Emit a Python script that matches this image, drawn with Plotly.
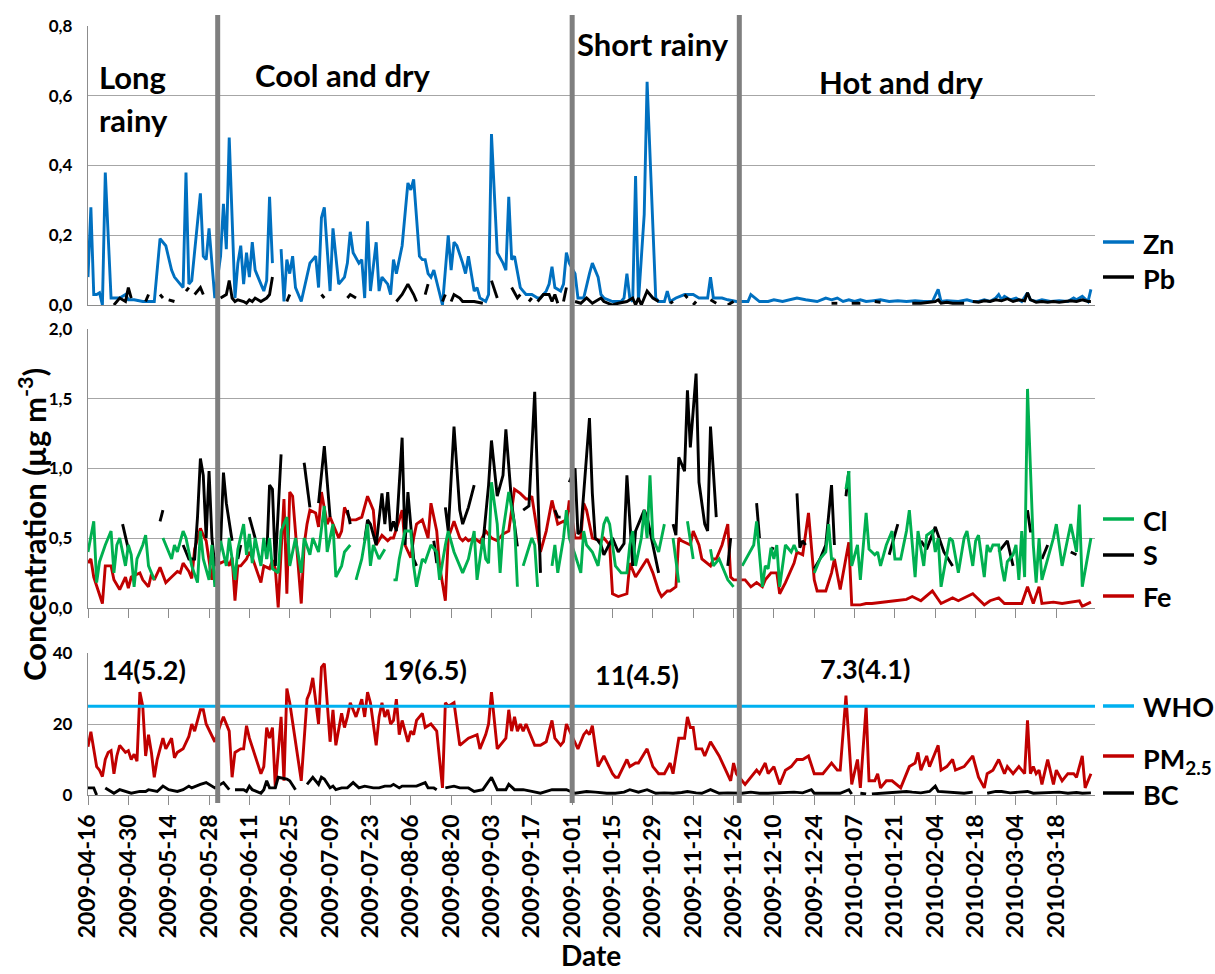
import pandas as pd
import plotly.graph_objects as go

# ---------------- data ----------------
START = "2009-04-16"
X_END = "2010-03-31 10:00"

# (day offset from START, value); None marks a gap
ZN = [(0,.08),(1,.28),(2,.03),(3,.03),(4,.035),(5,0),(6,.38),(8,.02),(9,.02),(11,.02),(13,.03),(14,.015),(16,.015),(19,.01),(21,.01),(23,.01),(25,.19),(27,.17),(29,.10),(30,.08),(31,.07),(33,.05),(34,.38),(35,.06),(36,.07),(39,.32),(40,.14),(41,.13),(42,.22),(44,.02),(46,.14),(47,.29),(48,.16),(49,.48),(51,.02),(52,.12),(53,.17),(54,.06),(55,.15),(56,.08),(57,.18),(58,.10),(60,.06),(61,.04),(62,.07),(63,.31),(64,.12),(65,None),(67,.16),(68,.01),(69,.13),(70,.09),(71,.14),(72,.05),(74,.01),(76,.08),(77,.12),(79,.14),(80,.05),(81,.25),(82,.28),(84,.04),(85,.22),(87,.06),(89,.08),(90,.12),(91,.21),(92,.15),(94,.12),(95,.13),(96,.02),(97,.24),(98,.04),(100,.18),(101,.04),(102,.08),(104,.06),(105,.03),(106,.13),(107,.09),(109,.17),(111,.35),(112,.33),(113,.36),(115,.14),(116,.13),(117,.13),(118,.09),(119,.08),(120,.10),(123,0),(125,.20),(126,.10),(127,.18),(128,.17),(130,.12),(131,.09),(132,.14),(134,.04),(135,.05),(136,.02),(138,.01),(139,.03),(140,.49),(142,.15),(144,.12),(145,.10),(146,.31),(147,.13),(148,.14),(150,.05),(151,.04),(152,.03),(154,.03),(156,.02),(157,.02),(159,.04),(160,.06),(161,.11),(162,.05),(164,.04),(165,.06),(166,.15),(167,.12),(169,.09),(170,.02),(172,.02),(174,.09),(175,.12),(177,.08),(178,.03),(179,.02),(182,.01),(185,.01),(186,.02),(187,.09),(188,.02),(189,.01),(190,.37),(191,.01),(193,.26),(194,.64),(197,.02),(198,.01),(200,.01),(201,.04),(202,.01),(204,.02),(207,.03),(210,.03),(212,.02),(215,.02),(216,.08),(217,.02),(220,.02),(222,.015),(225,.01),(227,.01),(229,.01),(230,.03),(233,.01),(236,.01),(238,.015),(241,.01),(244,.015),(246,.02),(249,.015),(253,.01),(256,.02),(258,.015),(260,.02),(262,.01),(264,.015),(266,.01),(268,.015),(270,.01),(272,.012),(275,.015),(278,.01),(281,.012),(284,.01),(287,.012),(290,.01),(293,.01),(295,.045),(296,.01),(298,.012),(300,.01),(302,.01),(305,.015),(307,.01),(309,.01),(311,.015),(313,.01),(315,.02),(316,.03),(317,.015),(318,.025),(320,.015),(322,.02),(324,.01),(326,.035),(327,.015),(329,.01),(331,.015),(334,.01),(337,.012),(340,.01),(342,.02),(343,.015),(345,.025),(347,.01),(348,.045)]

PB = [(9,0),(10,.01),(11,.02),(13,.01),(14,.05),(15,.02),(16,None),(20,.01),(21,.03),(22,None),(25,.03),(26,.02),(27,None),(28,.015),(30,.01),(31,None),(34,.04),(35,.05),(36,None),(37,.03),(39,.05),(40,.03),(41,None),(46,.02),(48,.03),(49,.07),(50,.02),(51,.01),(52,.015),(54,.01),(55,.005),(56,.015),(57,.01),(58,.02),(59,.015),(60,.01),(62,.02),(63,.03),(64,.08),(65,None),(69,.01),(70,.03),(71,None),(81,.03),(82,.02),(83,None),(90,.02),(91,.03),(93,.02),(94,None),(107,.01),(109,.03),(111,.06),(113,.03),(114,.01),(115,None),(117,.03),(118,.06),(119,None),(123,.01),(124,.03),(125,None),(126,.01),(127,.03),(129,.02),(130,.01),(132,.01),(134,.01),(137,.005),(138,None),(140,.07),(142,.02),(143,None),(147,.05),(149,.02),(150,.03),(151,None),(153,.01),(154,.02),(155,None),(156,.01),(158,.03),(160,.03),(161,.01),(162,.03),(163,.005),(164,None),(165,.01),(166,.05),(167,None),(169,.01),(171,.005),(173,.02),(175,.005),(178,.02),(179,.01),(182,0),(184,.005),(187,.01),(189,.02),(190,0),(191,.02),(192,0),(194,.04),(196,.02),(198,.01),(199,None),(202,.005),(203,.01),(204,None),(207,.03),(208,.02),(209,None),(210,0),(211,.01),(212,None),(216,.015),(218,.005),(219,None),(222,0),(224,.01),(225,None),(258,.005),(260,.005),(261,None),(265,.005),(268,.005),(269,None),(273,.01),(275,.008),(276,None),(286,.005),(289,.005),(292,.008),(294,.01),(295,.015),(296,.005),(298,.008),(300,.005),(302,.005),(304,.005),(305,None),(307,.01),(309,.008),(311,.012),(313,.01),(315,.015),(317,.012),(319,.018),(321,.01),(323,.015),(325,.012),(326,.035),(327,.015),(329,.008),(331,.01),(333,.008),(335,.01),(337,.008),(339,.01),(341,.012),(343,.01),(345,.015),(347,.01),(348,.01)]

FE = [(0,.32),(1,.35),(2,.22),(4,.10),(5,.03),(6,.30),(8,.30),(9,.20),(10,.16),(11,.13),(13,.22),(14,.14),(15,.22),(18,.25),(19,.20),(21,.15),(22,.24),(23,.20),(25,.29),(27,.18),(29,.22),(31,.26),(32,.25),(33,.32),(35,.26),(36,.21),(37,.42),(39,.57),(40,.52),(41,.48),(43,.20),(44,.35),(46,.32),(48,.34),(49,.30),(50,.36),(51,.05),(52,.30),(53,.30),(55,.35),(56,.40),(57,.36),(60,.18),(61,.30),(63,.28),(64,.34),(65,.28),(66,0),(67,.40),(68,.78),(69,.10),(70,.83),(71,.80),(73,.30),(74,.03),(75,.45),(76,.60),(77,.70),(79,.68),(80,.58),(81,.83),(83,.60),(84,.65),(86,.55),(87,.50),(88,.55),(89,.72),(91,.63),(93,.63),(95,.65),(97,.80),(99,.70),(100,.45),(102,.52),(104,.48),(105,.50),(106,.50),(108,.63),(109,.70),(110,.45),(111,.40),(112,.36),(113,.50),(114,.60),(116,.63),(118,.50),(119,.75),(121,.55),(122,.30),(124,.05),(125,.50),(127,.62),(129,.50),(130,.48),(131,.50),(132,.48),(134,.50),(136,.47),(138,.55),(140,.50),(142,.48),(144,.53),(146,.55),(148,.85),(150,.82),(152,.78),(153,.78),(154,.80),(157,.40),(159,.55),(161,.77),(163,.60),(165,.62),(166,.60),(167,.77),(169,.50),(171,.50),(172,.75),(173,.70),(175,.50),(178,.48),(179,.50),(181,.45),(182,.10),(184,.08),(187,.10),(188,.32),(190,.22),(194,.35),(196,.25),(198,.12),(199,.08),(201,.12),(202,.12),(204,.15),(205,.50),(206,.48),(209,.45),(210,.55),(212,.45),(213,.35),(216,.30),(217,.35),(218,.35),(220,.45),(222,.60),(223,.22),(224,.20),(225,.20),(228,.20),(230,.15),(232,.18),(234,.15),(235,.20),(237,.25),(238,.25),(239,.25),(240,.10),(242,.18),(245,.32),(246,.40),(248,.38),(250,.68),(252,.20),(253,.12),(256,.12),(258,.25),(259,.35),(261,.13),(264,.47),(265,.02),(268,.02),(270,.03),(272,.03),(277,.04),(280,.05),(284,.06),(286,.08),(289,.05),(293,.12),(296,.03),(300,.07),(302,.05),(307,.10),(311,.02),(313,.05),(316,.07),(318,.03),(324,.03),(326,.15),(328,.03),(330,.15),(331,.03),(335,.04),(338,.03),(342,.04),(344,.05),(345,.01),(348,.04)]

S = [(12,.60),(14,.42),(15,None),(25,.62),(26,.70),(27,None),(33,.45),(35,.35),(37,.35),(38,.65),(39,1.07),(40,.95),(41,.50),(42,.98),(43,.50),(44,.30),(46,.45),(47,.97),(48,.75),(50,.48),(51,None),(52,.35),(53,.45),(54,None),(56,.65),(58,.50),(59,None),(62,.35),(63,.88),(64,.85),(65,.30),(67,1.10),(68,None),(75,1.04),(77,.72),(78,None),(80,.75),(82,1.16),(84,.65),(85,None),(90,.70),(91,.60),(92,None),(96,.48),(97,.63),(98,.60),(100,.45),(102,.82),(103,.60),(104,.83),(105,.55),(106,.62),(107,.55),(109,1.22),(110,.45),(111,.83),(113,.35),(114,.30),(115,None),(120,.48),(121,.32),(122,None),(124,.72),(125,.55),(127,1.30),(129,.70),(130,.60),(132,.72),(134,.88),(135,None),(137,.45),(139,.88),(140,1.20),(142,.80),(144,.95),(145,1.28),(147,.75),(149,.44),(150,None),(151,.70),(153,.73),(155,1.55),(157,.25),(158,None),(162,.70),(163,.65),(164,.65),(165,None),(167,.90),(169,1.00),(170,.53),(171,.55),(174,1.36),(175,.82),(176,.50),(177,.48),(178,.45),(179,.38),(180,.42),(182,.50),(184,.40),(186,.46),(187,.95),(189,.30),(190,.55),(191,.60),(193,.70),(194,.65),(198,.25),(199,None),(203,.60),(204,.52),(205,1.08),(207,.98),(208,1.56),(209,1.15),(211,1.68),(212,.90),(214,.60),(215,.55),(216,1.30),(218,.65),(219,None),(222,.30),(223,.50),(224,None),(232,.75),(233,.50),(234,None),(237,.43),(238,.42),(239,None),(246,.82),(247,.43),(248,.48),(249,.45),(250,None),(252,.28),(254,.35),(256,.45),(258,.88),(259,.45),(260,None),(263,.80),(264,.98),(265,None),(278,.38),(281,.60),(282,None),(289,.48),(291,.42),(294,.58),(297,.40),(300,.30),(301,None),(316,.40),(319,.48),(321,.30),(322,None),(326,.70),(327,.55),(328,.55),(329,None),(331,.35),(333,.45),(334,None),(341,.40),(343,.38)]

CL = [(0,.40),(2,.62),(3,.18),(4,.33),(6,.45),(7,.50),(8,.55),(9,.25),(10,.45),(11,.50),(13,.30),(14,.45),(15,.38),(16,.15),(17,.35),(19,.45),(20,.52),(21,.30),(23,.20),(24,None),(26,.50),(27,.45),(29,.35),(30,.45),(31,.40),(33,.55),(34,.50),(36,.30),(38,.18),(39,.55),(40,.35),(42,.20),(43,.45),(44,.15),(46,.48),(48,.30),(49,.50),(51,.20),(52,.42),(54,.60),(55,.38),(56,.53),(57,.32),(58,.50),(60,.30),(61,.50),(62,.35),(63,.50),(64,.28),(66,.25),(67,.55),(69,.65),(70,.30),(72,.50),(74,.25),(75,.50),(77,.38),(78,.50),(80,.40),(82,.73),(83,.40),(85,.60),(86,.22),(88,.30),(89,.40),(91,.45),(92,None),(93,.20),(95,.35),(97,.60),(98,.30),(99,.45),(101,.35),(103,.42),(104,None),(106,.20),(107,.20),(108,.35),(110,.55),(112,.55),(113,.30),(114,.15),(116,.35),(117,.33),(119,.45),(121,.40),(122,.20),(124,.45),(125,.55),(127,.40),(128,.35),(130,.25),(132,.35),(134,.55),(135,.20),(137,.50),(138,.35),(139,.32),(140,.90),(142,.60),(143,.25),(144,.55),(146,.83),(148,.60),(149,.15),(150,None),(151,.30),(154,.50),(155,.45),(156,.15),(157,None),(161,.30),(162,.45),(163,.25),(165,.50),(166,.70),(167,.50),(169,.38),(171,.25),(172,.55),(173,.45),(175,.40),(177,.30),(179,.60),(180,.65),(181,.60),(183,.30),(185,.25),(187,.25),(188,.45),(189,.55),(190,.30),(192,.50),(193,.70),(194,.50),(195,.95),(196,.50),(198,.40),(200,.60),(201,None),(203,.50),(205,.18),(206,None),(208,.62),(210,.35),(211,None),(216,.42),(217,.30),(219,.35),(222,.20),(224,.15),(225,None),(227,.30),(231,.45),(232,.62),(234,.15),(235,.30),(236,.28),(237,.43),(238,.35),(239,.45),(240,.15),(242,.45),(244,.40),(245,.45),(246,.40),(247,None),(252,.25),(254,.35),(256,.40),(257,.60),(258,.35),(259,.35),(260,None),(263,.85),(264,.98),(265,.30),(267,.45),(268,.20),(270,.68),(271,.42),(273,.38),(274,.40),(275,.30),(277,.45),(278,.50),(279,.55),(280,.35),(282,.35),(284,.55),(285,.70),(287,.22),(288,.55),(290,.30),(291,.52),(293,.55),(294,.40),(295,.50),(296,.15),(299,.50),(300,.48),(302,.25),(304,.50),(305,.55),(307,.30),(308,.48),(309,.52),(311,.22),(312,.45),(313,.40),(314,.45),(316,.45),(317,.30),(318,.19),(319,.33),(321,.38),(322,.45),(323,.20),(324,.55),(325,.22),(326,1.57),(328,.45),(329,.18),(330,.50),(331,.20),(333,.35),(334,.42),(335,.50),(336,.60),(338,.30),(340,.50),(341,.60),(343,.40),(344,.74),(345,.15),(348,.50)]

PM25 = [(0,13.6),(1,17.8),(3,8),(4,7),(5,5.2),(6,10),(7,12),(8,12.5),(9,6),(10,11),(11,14),(13,12),(14,12.5),(15,10),(16,11.5),(17,9.5),(18,29),(19,25),(20,11),(21,17),(22,12),(23,5),(24,10),(26,16),(27,13),(29,16),(30,10.5),(31,12),(33,13),(34,15),(35,16.5),(36,20),(37,18),(39,24),(40,24),(41,20),(44,15),(46,20),(47,22),(49,18),(50,5),(51,12),(53,13),(54,13),(55,19.5),(56,16),(58,11),(60,6),(61,8),(62,19),(63,16),(64,19),(65,2),(67,22),(68,4),(69,30),(70,26),(72,15),(74,4),(76,27),(77,29),(78,33),(79,26),(80,20),(81,36),(82,37),(84,15),(85,24),(86,14),(87,19),(88,23),(89,19),(90,22),(91,26),(93,22),(95,27),(96,22),(97,29),(98,26),(100,14),(101,22),(102,26),(103,22),(104,24),(105,20),(106,21),(107,27),(108,17),(109,21),(110,18),(111,15),(112,18),(113,17),(114,21),(116,23),(117,19),(119,20),(121,18),(123,2),(124,26),(125,25),(127,26),(129,14),(132,16),(135,17),(136,13),(138,17),(139,20),(140,29),(142,13),(145,16),(146,24),(147,18),(148,22),(149,18),(150,20),(151,18),(152,20),(155,14),(157,14),(159,15),(161,21),(162,16),(164,14),(165,15),(166,20),(169,15),(170,13),(172,17),(173,18),(174,17),(175,19.5),(177,8),(179,11),(182,6),(183,5),(184,5),(187,10),(188,8),(190,9),(191,9),(194,13),(196,8),(198,6),(200,6),(202,9),(203,6),(205,16),(207,16),(208,22),(209,19),(210,19),(211,13),(213,13),(214,11),(216,15),(219,11),(223,4),(224,9),(225,6),(228,3),(231,6),(232,7),(233,6),(235,9),(236,6),(238,8),(240,3),(242,7),(244,8),(246,10),(248,10),(250,11),(252,6),(255,6),(257,8),(258,9),(260,7),(261,7),(263,28),(265,3),(267,10),(268,2),(270,25),(271,4),(273,4),(274,6),(275,2),(277,4),(279,4),(282,2),(285,8),(287,9),(288,12),(289,7),(291,11),(292,8),(295,14),(296,7),(298,8),(300,10),(301,7),(304,8),(307,11),(309,5),(311,2),(312,6),(314,7),(316,10),(318,6),(319,8),(321,6),(323,8),(325,6),(326,21),(327,6),(328,8),(329,6),(330,7),(331,3),(333,10),(335,3),(336,7),(338,4),(340,6),(342,6),(343,5),(345,11),(346,2),(348,6)]

BC = [(0,2),(2,2),(3,0),(4,None),(6,2),(8,1),(9,.5),(11,1.5),(13,1),(15,.5),(18,1),(20,1),(21,1.5),(24,1),(26,2.5),(28,1.5),(31,1),(33,1.5),(35,2.5),(36,2),(39,3),(41,3.5),(44,2),(46,3),(47,3.5),(49,1.5),(50,None),(51,1.5),(54,1.5),(55,1),(56,2.5),(57,1.5),(60,.5),(61,1.5),(62,4),(63,2),(65,2),(66,5),(69,4.5),(70,4),(72,1.5),(73,None),(76,3),(78,5),(80,3),(81,5),(82,4.5),(84,2),(85,2.5),(86,1.5),(88,2),(90,2),(92,3.5),(94,2),(96,2.5),(99,2),(101,2),(103,2.5),(105,2.5),(106,3),(108,2),(109,2.5),(112,2.5),(114,2.5),(117,3.5),(118,2),(120,2),(121,1.5),(122,None),(124,2),(127,2.5),(129,2),(132,2),(134,1),(137,1.5),(140,5),(142,1.5),(145,1.5),(146,3),(148,1.5),(151,1.5),(154,1),(157,.5),(161,1.5),(166,1.5),(169,.5),(173,1),(176,.8),(180,.5),(183,.5),(186,.8),(188,1.5),(191,.8),(194,1.5),(197,.5),(200,.6),(203,.5),(206,.7),(208,1),(211,.6),(213,.5),(216,1.5),(219,.5),(222,.6),(224,.5),(227,.5),(230,.8),(233,.5),(236,.5),(239,.6),(242,.5),(245,.8),(248,.6),(251,1.5),(252,.5),(255,.5),(258,.6),(261,.5),(264,1.5),(265,.3),(266,None),(268,.5),(270,.3),(271,None),(272,.3),(275,.5),(278,.6),(281,.8),(284,1),(286,.8),(289,.6),(292,1),(294,2.5),(295,1),(298,.8),(301,.6),(304,.5),(307,.8),(308,None),(312,.5),(315,1),(317,1),(320,.6),(323,.8),(326,1),(328,.5),(331,.6),(334,.5),(337,.8),(340,.5),(343,.7),(345,.5),(348,.6)]

WHO_LIMIT = 25
SEASON_BREAKS = ["2009-05-31", "2009-10-01", "2009-11-28"]
SEASON_TEXT = ["Long", "rainy", "Cool and dry", "Short rainy", "Hot and dry"]
PM_MEANS = ["14(5.2)", "19(6.5)", "11(4.5)", "7.3(4.1)"]
Y1_TICKS = [0, 0.2, 0.4, 0.6, 0.8]
Y1_TEXT = ["0,0", "0,2", "0,4", "0,6", "0,8"]
Y2_TICKS = [0, 0.5, 1.0, 1.5, 2.0]
Y2_TEXT = ["0,0", "0,5", "1,0", "1,5", "2,0"]
Y3_TICKS = [0, 20, 40]
Y3_TEXT = ["0", "20", "40"]

# ---------------- helpers ----------------
def to_xy(pairs):
    d = {}
    for day, v in pairs:
        d[day] = v
    days = sorted(d)
    x = [pd.Timestamp(START) + pd.Timedelta(days=k) for k in days]
    return x, [d[k] for k in days]

W, H = 1215, 974
ML, MR, MT, MB = 88, 120, 15, 179
PW, PH = W - ML - MR, H - MT - MB

def fx(px):
    return (px - ML) / PW

def fy(py):
    return 1 - (py - MT) / PH

FONT = "Lato"
BLUE, BLACK, GREEN, RED, CYAN = "#0070C0", "#000000", "#00B050", "#C00000", "#00B0F0"
GRID, AXIS, SEP = "#a6a6a6", "#8c8c8c", "#7f7f7f"
LW = 2.9

fig = go.Figure()

def add(pairs, color, xa, ya, width=LW):
    x, y = to_xy(pairs)
    fig.add_trace(go.Scatter(x=x, y=y, mode="lines", line=dict(color=color, width=width),
                             connectgaps=False, xaxis=xa, yaxis=ya, showlegend=False,
                             hoverinfo="skip"))

add(ZN, BLUE, "x", "y")
add(PB, BLACK, "x", "y")
add(FE, RED, "x2", "y2")
add(S, BLACK, "x2", "y2")
add(CL, GREEN, "x2", "y2")
add(PM25, RED, "x3", "y3")
add(BC, BLACK, "x3", "y3")
fig.add_trace(go.Scatter(x=[START, X_END], y=[WHO_LIMIT, WHO_LIMIT], mode="lines",
                         line=dict(color=CYAN, width=3.2), xaxis="x3", yaxis="y3",
                         showlegend=False, hoverinfo="skip"))

def bold(size):
    return dict(family=FONT, size=size, color="black", weight="bold")

common_x = dict(type="date", range=[START, X_END], showgrid=False, zeroline=False,
                tick0=START, dtick=14 * 86400000, ticklen=9, tickwidth=1.3,
                tickcolor=AXIS, showline=True, linecolor=AXIS, linewidth=1.3)

def yax(domain, rng, vals, text, anchor):
    return dict(domain=domain, range=rng, tickvals=vals, ticktext=text, anchor=anchor,
                showgrid=True, gridcolor=GRID, gridwidth=1.3, zeroline=False,
                showline=True, linecolor=AXIS, linewidth=1.3, ticks="",
                tickfont=bold(17), ticklabelstandoff=11)

fig.update_layout(
    width=W, height=H,
    margin=dict(l=ML, r=MR, t=MT, b=MB, pad=0, autoexpand=False),
    paper_bgcolor="white", plot_bgcolor="white",
    hovermode=False, showlegend=False,
    xaxis=dict(common_x, anchor="y", ticks="", showticklabels=False),
    xaxis2=dict(common_x, anchor="y2", ticks="outside", showticklabels=False),
    xaxis3=dict(common_x, anchor="y3", ticks="outside", tickformat="%Y-%m-%d",
                tickangle=-90, tickfont=bold(23)),
    yaxis=yax([fy(305), fy(26)], [0, 0.8], Y1_TICKS, Y1_TEXT, "x"),
    yaxis2=yax([fy(607.7), fy(329)], [0, 2.0], Y2_TICKS, Y2_TEXT, "x2"),
    yaxis3=yax([fy(795), fy(653)], [0, 40], Y3_TICKS, Y3_TEXT, "x3"),
)

shapes = []
for d in SEASON_BREAKS:
    shapes.append(dict(type="line", xref="x", yref="paper", x0=d, x1=d,
                       y0=fy(803), y1=fy(15), line=dict(color=SEP, width=5), layer="above"))

annotations = []

def txt(text, px, py, size, xanchor="left", textangle=0):
    annotations.append(dict(text=text, x=fx(px), y=fy(py), xref="paper", yref="paper",
                            xanchor=xanchor, yanchor="middle", showarrow=False,
                            font=bold(size), textangle=textangle))

# season labels
txt(SEASON_TEXT[0], 97, 77, 31)
txt(SEASON_TEXT[1], 97, 120, 31)
txt(SEASON_TEXT[2], 253, 75, 31)
txt(SEASON_TEXT[3], 575, 44, 31)
txt(SEASON_TEXT[4], 817, 82, 31)
# PM2.5 seasonal means
txt(PM_MEANS[0], 100, 669, 27)
txt(PM_MEANS[1], 381, 669, 27)
txt(PM_MEANS[2], 593, 674, 27)
txt(PM_MEANS[3], 818, 668, 27)

# legend entries
LEGEND = [("Zn", BLUE, 242, 243), ("Pb", BLACK, 277, 278),
          ("Cl", GREEN, 519, 520), ("S", BLACK, 555, 554), ("Fe", RED, 596, 596),
          ("WHO", CYAN, 706, 706), ("PM<sub>2.5</sub>", RED, 756, 760), ("BC", BLACK, 793, 794)]
for label, color, ly, ty in LEGEND:
    shapes.append(dict(type="line", xref="paper", yref="paper", x0=fx(1103), x1=fx(1134),
                       y0=fy(ly), y1=fy(ly), line=dict(color=color, width=3.5)))
    txt(label, 1141, ty, 27)

# axis titles
txt("Concentration (µg m<sup>-3</sup>)", 32, 525, 31, xanchor="center", textangle=-90)
txt("Date", 591, 955, 28, xanchor="center")

fig.update_layout(shapes=shapes, annotations=annotations)

fig.write_html("out.html", config={"displayModeBar": False},
               post_script="document.body.style.margin='0';document.body.style.overflow='hidden';")
